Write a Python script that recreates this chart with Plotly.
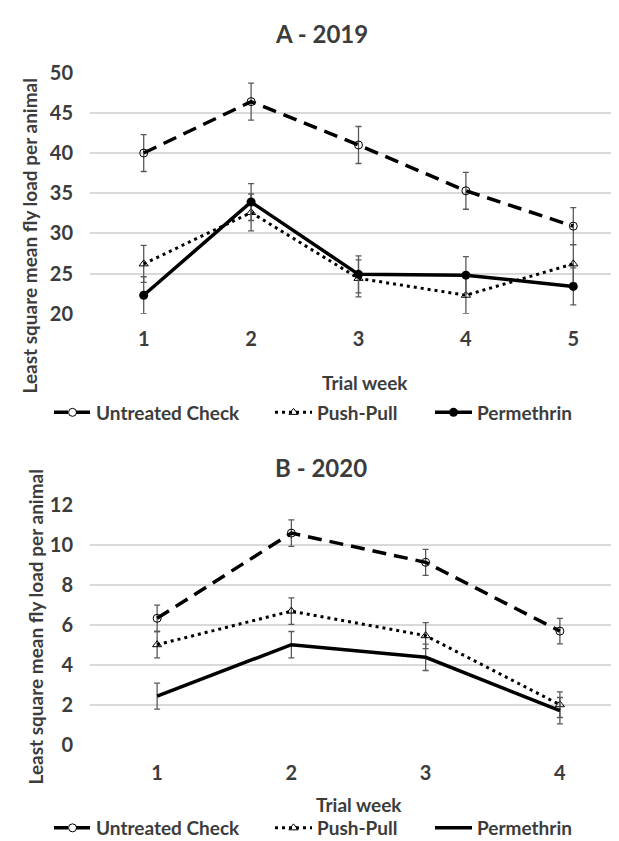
import plotly.graph_objects as go

# ---------------- data ----------------
weeks_a = [1, 2, 3, 4, 5]
untreated_a = [40.0, 46.4, 41.0, 35.3, 30.9]
untreated_a_se = [2.3, 2.3, 2.3, 2.3, 2.3]
pushpull_a = [26.2, 32.6, 24.4, 22.3, 26.2]
pushpull_a_se = [2.3, 2.3, 2.3, 2.3, 2.4]
permethrin_a = [22.3, 33.9, 24.9, 24.8, 23.4]
permethrin_a_se = [2.3, 2.3, 2.3, 2.3, 2.3]

weeks_b = [1, 2, 3, 4]
untreated_b = [6.32, 10.58, 9.12, 5.68]
untreated_b_se = [0.66, 0.66, 0.65, 0.64]
pushpull_b = [5.0, 6.68, 5.45, 2.0]
pushpull_b_se = [0.66, 0.66, 0.65, 0.64]
permethrin_b = [2.43, 5.0, 4.37, 1.7]
permethrin_b_se = [0.65, 0.66, 0.66, 0.66]

yticks_a = [20, 25, 30, 35, 40, 45, 50]
yticks_b = [0, 2, 4, 6, 8, 10, 12]

series_names = ["Untreated Check", "Push-Pull", "Permethrin"]
titles = ["A - 2019", "B - 2020"]
y_title = "Least square mean fly load per animal"
x_title = "Trial week"

# ---------------- styling ----------------
W, H = 619, 841
TXT = "#3c3c3c"
FONT = "Lato"
ERR = "#595959"
GRID = "#d9d9d9"


def px(x):
    return x / W


def py(y):
    return 1 - y / H


def err(se):
    return dict(type="data", array=se, visible=True, color=ERR, thickness=1.3, width=3)


fig = go.Figure()

# Panel A
fig.add_trace(go.Scatter(
    x=weeks_a, y=untreated_a, name=series_names[0], mode="lines+markers",
    line=dict(color="black", width=3.5, dash="14px,8px"),
    marker=dict(symbol="circle-open", size=8, color="black", line=dict(width=1)),
    error_y=err(untreated_a_se), xaxis="x", yaxis="y", legend="legend"))
fig.add_trace(go.Scatter(
    x=weeks_a, y=pushpull_a, name=series_names[1], mode="lines+markers",
    line=dict(color="black", width=3, dash="3px,4px"),
    marker=dict(symbol="triangle-up-open", size=8, color="black", line=dict(width=1)),
    error_y=err(pushpull_a_se), xaxis="x", yaxis="y", legend="legend2"))
fig.add_trace(go.Scatter(
    x=weeks_a, y=permethrin_a, name=series_names[2], mode="lines+markers",
    line=dict(color="black", width=3.5),
    marker=dict(symbol="circle", size=9, color="black"),
    error_y=err(permethrin_a_se), xaxis="x", yaxis="y", legend="legend3"))

# Panel B
fig.add_trace(go.Scatter(
    x=weeks_b, y=untreated_b, name=series_names[0], mode="lines+markers",
    line=dict(color="black", width=3.5, dash="14px,8px"),
    marker=dict(symbol="circle-open", size=8, color="black", line=dict(width=1)),
    error_y=err(untreated_b_se), xaxis="x2", yaxis="y2", legend="legend4"))
fig.add_trace(go.Scatter(
    x=weeks_b, y=pushpull_b, name=series_names[1], mode="lines+markers",
    line=dict(color="black", width=3, dash="3px,4px"),
    marker=dict(symbol="triangle-up-open", size=8, color="black", line=dict(width=1)),
    error_y=err(pushpull_b_se), xaxis="x2", yaxis="y2", legend="legend5"))
fig.add_trace(go.Scatter(
    x=weeks_b, y=permethrin_b, name=series_names[2], mode="lines",
    line=dict(color="black", width=3.5),
    error_y=err(permethrin_b_se), xaxis="x2", yaxis="y2", legend="legend6"))

tickfont = dict(family=FONT, size=20, color=TXT, weight="bold")
axis_common = dict(showline=False, zeroline=False, ticks="", tickfont=tickfont,
                   automargin=False)

layout = dict(
    template="none",
    width=W, height=H,
    margin=dict(l=0, r=0, t=0, b=0, pad=0, autoexpand=False),
    showlegend=True,
    paper_bgcolor="white", plot_bgcolor="white",
    font=dict(family=FONT, color=TXT),
    xaxis=dict(domain=[px(82), 1], range=[0.5, 5.5], tickvals=weeks_a,
               showgrid=False, anchor="y", ticklabelstandoff=11, **axis_common),
    yaxis=dict(domain=[py(305.7), py(64.7)], range=[20, 50], tickvals=yticks_a,
               showgrid=True, gridcolor=GRID, gridwidth=1.5, anchor="x",
               ticklabelstandoff=16, **axis_common),
    xaxis2=dict(domain=[px(82), 1], range=[0.5, 4.5], tickvals=weeks_b,
                showgrid=False, anchor="y2", ticklabelstandoff=14, **axis_common),
    yaxis2=dict(domain=[py(736.7), py(496.7)], range=[0, 12], tickvals=yticks_b,
                showgrid=True, gridcolor=GRID, gridwidth=1.5, anchor="x2",
                ticklabelstandoff=16, **axis_common),
)

legfont = dict(family=FONT, size=19, color=TXT, weight="bold")
leg_x = [41, 262, 422]
leg_y = [404.5, 820]
k = 0
for yi in leg_y:
    for xi in leg_x:
        name = "legend" if k == 0 else f"legend{k + 1}"
        layout[name] = dict(x=px(xi), y=py(yi), xanchor="left", yanchor="middle",
                            orientation="h", font=legfont, bgcolor="rgba(0,0,0,0)",
                            borderwidth=0, itemwidth=37, visible=True)
        k += 1

fig.update_layout(**layout)

ann_font = dict(family=FONT, size=19, color=TXT, weight="bold")
annotations = [
    dict(text=titles[0], x=px(313), y=py(25), font=dict(family=FONT, size=24, color=TXT, weight="bold")),
    dict(text=titles[1], x=px(313), y=py(459), font=dict(family=FONT, size=24, color=TXT, weight="bold")),
    dict(text=y_title, x=px(21.5), y=py(228), textangle=-90, font=ann_font),
    dict(text=y_title, x=px(26.5), y=py(619), textangle=-90, font=ann_font),
    dict(text=x_title, x=px(357), y=py(375), font=ann_font),
    dict(text=x_title, x=px(351), y=py(796), font=ann_font),
]
for a in annotations:
    a.update(xref="paper", yref="paper", showarrow=False, xanchor="center", yanchor="middle")
fig.update_layout(annotations=annotations)

fig.write_html("out.html")
